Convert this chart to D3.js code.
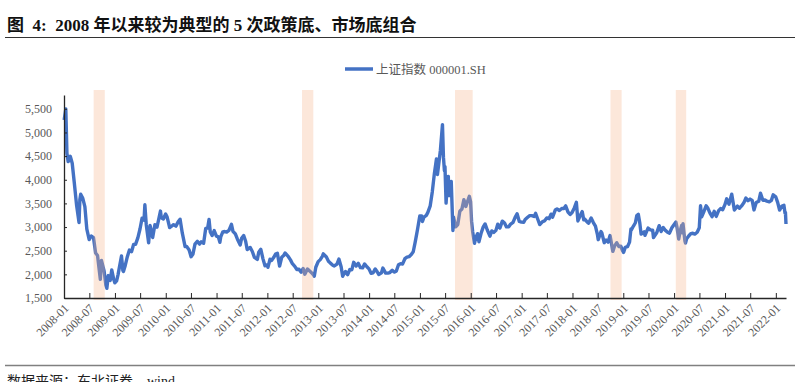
<!DOCTYPE html>
<html>
<head>
<meta charset="utf-8">
<script src="https://cdn.jsdelivr.net/npm/d3@7"></script>
<style>
  body { margin: 0; background: #fff; }
  svg { display: block; }
</style>
</head>
<body>
<svg id="chart" width="800" height="382"></svg>
<script>
// ---- data ----
const dates = [
  "2008-01-02","2008-01-14","2008-01-22","2008-01-31","2008-02-15","2008-02-29","2008-03-14","2008-03-31","2008-04-18","2008-04-24","2008-04-30","2008-05-15","2008-05-30","2008-06-13","2008-06-30","2008-07-15","2008-07-31","2008-08-15","2008-08-29","2008-09-18","2008-09-26","2008-10-15","2008-10-28","2008-11-04","2008-11-14","2008-11-28","2008-12-09","2008-12-23","2008-12-31",
  "2009-01-13","2009-01-23","2009-02-17","2009-02-27","2009-03-03","2009-03-16","2009-03-31","2009-04-15","2009-04-30","2009-05-15","2009-05-29","2009-06-15","2009-06-30","2009-07-15","2009-07-29","2009-08-04","2009-08-14","2009-08-31","2009-09-10","2009-09-29","2009-10-15","2009-10-30","2009-11-24","2009-11-30","2009-12-15","2009-12-31",
  "2010-01-11","2010-01-29","2010-02-12","2010-02-26","2010-03-15","2010-03-31","2010-04-14","2010-04-30","2010-05-20","2010-05-31","2010-06-18","2010-07-02","2010-07-15","2010-07-30","2010-08-16","2010-08-31","2010-09-13","2010-09-30","2010-10-15","2010-10-29","2010-11-08","2010-11-17","2010-11-30","2010-12-15","2010-12-31",
  "2011-01-14","2011-01-25","2011-01-31","2011-02-15","2011-02-28","2011-03-15","2011-03-31","2011-04-18","2011-04-29","2011-05-16","2011-05-31","2011-06-20","2011-06-30","2011-07-15","2011-07-29","2011-08-09","2011-08-31","2011-09-15","2011-09-30","2011-10-21","2011-10-31","2011-11-15","2011-11-30","2011-12-15","2011-12-30",
  "2012-01-05","2012-01-20","2012-01-31","2012-02-15","2012-02-29","2012-03-13","2012-03-29","2012-04-13","2012-04-27","2012-05-07","2012-05-31","2012-06-15","2012-06-29","2012-07-16","2012-07-31","2012-08-15","2012-08-31","2012-09-14","2012-09-26","2012-10-15","2012-10-31","2012-11-15","2012-11-30","2012-12-03","2012-12-14","2012-12-31",
  "2013-01-15","2013-01-31","2013-02-06","2013-02-28","2013-03-15","2013-03-29","2013-04-15","2013-04-26","2013-05-15","2013-05-29","2013-06-14","2013-06-25","2013-06-28","2013-07-15","2013-07-31","2013-08-15","2013-08-30","2013-09-12","2013-09-30","2013-10-15","2013-10-31","2013-11-15","2013-11-29","2013-12-16","2013-12-31",
  "2014-01-15","2014-01-30","2014-02-14","2014-02-28","2014-03-11","2014-03-31","2014-04-10","2014-04-30","2014-05-15","2014-05-30","2014-06-16","2014-06-30","2014-07-15","2014-07-31","2014-08-15","2014-08-29","2014-09-15","2014-09-30","2014-10-15","2014-10-31","2014-11-14","2014-11-28","2014-12-09","2014-12-15","2014-12-31",
  "2015-01-13","2015-01-19","2015-01-30","2015-02-16","2015-02-27","2015-03-16","2015-03-31","2015-04-15","2015-04-30","2015-05-07","2015-05-15","2015-05-28","2015-06-12","2015-06-19","2015-06-26","2015-06-30","2015-07-08","2015-07-17","2015-07-24","2015-07-27","2015-07-31","2015-08-14","2015-08-26","2015-08-31","2015-09-15","2015-09-30","2015-10-15","2015-10-30","2015-11-13","2015-11-27","2015-12-22","2015-12-31",
  "2016-01-07","2016-01-15","2016-01-28","2016-02-05","2016-02-19","2016-02-29","2016-03-15","2016-03-31","2016-04-13","2016-04-29","2016-05-18","2016-05-31","2016-06-15","2016-06-30","2016-07-13","2016-07-29","2016-08-15","2016-08-31","2016-09-14","2016-09-30","2016-10-14","2016-10-31","2016-11-15","2016-11-29","2016-12-15","2016-12-30",
  "2017-01-16","2017-01-26","2017-02-15","2017-02-28","2017-03-15","2017-03-31","2017-04-11","2017-04-28","2017-05-11","2017-05-31","2017-06-15","2017-06-30","2017-07-17","2017-07-31","2017-08-11","2017-08-31","2017-09-12","2017-09-29","2017-10-16","2017-10-31","2017-11-13","2017-11-30","2017-12-15","2017-12-29",
  "2018-01-15","2018-01-29","2018-02-09","2018-02-28","2018-03-12","2018-03-23","2018-03-30","2018-04-16","2018-04-27","2018-05-15","2018-05-31","2018-06-15","2018-06-29","2018-07-05","2018-07-25","2018-07-31","2018-08-17","2018-08-31","2018-09-14","2018-09-28","2018-10-18","2018-10-31","2018-11-15","2018-11-30","2018-12-14","2018-12-28",
  "2019-01-03","2019-01-15","2019-01-31","2019-02-15","2019-02-25","2019-02-28","2019-03-15","2019-03-29","2019-04-08","2019-04-19","2019-04-30","2019-05-09","2019-05-31","2019-06-06","2019-06-28","2019-07-15","2019-07-31","2019-08-06","2019-08-30","2019-09-16","2019-09-30","2019-10-15","2019-10-31","2019-11-15","2019-11-29","2019-12-16","2019-12-31",
  "2020-01-14","2020-01-23","2020-02-03","2020-02-14","2020-02-24","2020-02-28","2020-03-05","2020-03-19","2020-03-23","2020-03-31","2020-04-15","2020-04-30","2020-05-15","2020-05-29","2020-06-15","2020-06-30","2020-07-09","2020-07-17","2020-07-31","2020-08-18","2020-08-31","2020-09-15","2020-09-30","2020-10-15","2020-10-30","2020-11-16","2020-11-30","2020-12-15","2020-12-31",
  "2021-01-13","2021-01-29","2021-02-18","2021-03-09","2021-03-31","2021-04-15","2021-04-30","2021-05-17","2021-05-31","2021-06-15","2021-06-30","2021-07-15","2021-07-28","2021-08-13","2021-08-31","2021-09-13","2021-09-30","2021-10-15","2021-10-29","2021-11-15","2021-11-30","2021-12-13","2021-12-31",
  "2022-01-14","2022-01-28","2022-02-15","2022-02-28","2022-03-08","2022-03-11","2022-03-15"
];

const closes = [
  5265,5497,4559,4383,4497,4348,3962,3473,3094,3584,3693,3606,3433,2957,2736,2811,2775,2450,2397,1895,2293,2074,1771,1706,1974,1871,2093,1897,1821,
  1863,1990,2389,2082,2060,2189,2373,2513,2477,2632,2633,2776,2959,3189,3147,3471,3046,2667,3034,2779,3050,2996,3338,3195,3170,3277,
  3212,2989,3018,3051,3019,3110,3166,2871,2588,2592,2514,2373,2424,2638,2700,2639,2688,2656,2971,2979,3159,2894,2820,2925,2808,
  2791,2677,2791,2899,2905,2896,2928,3057,2911,2854,2743,2621,2762,2820,2701,2526,2568,2484,2359,2317,2468,2530,2333,2181,2199,
  2149,2319,2293,2355,2428,2445,2174,2359,2397,2452,2373,2306,2225,2170,2103,2110,2047,2123,2004,2114,2069,2030,1980,1959,2150,2269,
  2311,2385,2434,2366,2278,2237,2194,2177,2217,2324,2162,1959,1979,2059,1994,2101,2098,2255,2175,2233,2141,2136,2220,2160,2116,
  2023,2033,2115,2056,1997,2033,2134,2026,2025,2039,2087,2048,2066,2202,2226,2217,2331,2364,2374,2420,2478,2683,2856,2953,3235,
  3235,3116,3210,3247,3310,3449,3748,4135,4442,4112,4308,4620,5166,4478,4192,4277,3507,3957,4070,3725,3664,3965,2927,3206,3005,3053,3338,3383,3580,3436,3651,3539,
  3125,2901,2656,2763,2860,2688,2864,3004,3066,2938,2807,2917,2887,2930,3060,2979,3125,3085,3003,3005,3064,3100,3206,3282,3118,3104,
  3103,3159,3212,3242,3241,3223,3289,3155,3052,3117,3132,3192,3176,3273,3209,3361,3384,3349,3391,3393,3448,3317,3266,3307,
  3410,3524,3129,3259,3326,3153,3169,3110,3082,3193,3095,3021,2847,2733,2904,2876,2669,2725,2682,2821,2486,2603,2668,2588,2594,2494,
  2464,2570,2585,2682,2961,2941,3022,3091,3245,3271,3078,2850,2899,2827,2979,2942,2933,2778,2886,3030,2905,2991,2929,2891,2872,2984,3050,
  3106,2977,2746,2917,3031,2880,3071,2702,2660,2750,2811,2860,2868,2852,2890,2985,3450,3214,3310,3451,3396,3295,3218,3332,3225,3346,3392,3367,3473,
  3598,3483,3696,3360,3442,3398,3447,3517,3615,3556,3591,3564,3362,3517,3544,3715,3568,3572,3547,3533,3564,3681,3640,
  3521,3361,3446,3462,3293,3310,3064
];

const tickLabels = [
  "2008-01","2008-07","2009-01","2009-07","2010-01","2010-07","2011-01","2011-07",
  "2012-01","2012-07","2013-01","2013-07","2014-01","2014-07","2015-01","2015-07",
  "2016-01","2016-07","2017-01","2017-07","2018-01","2018-07","2019-01","2019-07",
  "2020-01","2020-07","2021-01","2021-07","2022-01"
];
const yTicks = [1500, 2000, 2500, 3000, 3500, 4000, 4500, 5000, 5500];

// policy bottom / market bottom windows (shaded)
const bottomStarts = ["2008-08-01", "2012-09-06", "2015-09-10", "2018-10-01", "2020-01-13"];
const bottomEnds   = ["2008-10-20", "2012-11-26", "2016-01-15", "2018-12-20", "2020-03-28"];

const seriesName = "上证指数 000001.SH";
const title = "图  4:  2008 年以来较为典型的 5 次政策底、市场底组合";
const source = "数据来源：东北证券，wind";

if (dates.length !== closes.length) console.error("length mismatch", dates.length, closes.length);

// ---- setup ----
const parse = d3.timeParse("%Y-%m-%d");
const parseMonth = d3.timeParse("%Y-%m");
const points = dates.map((d, i) => ({ date: parse(d), value: closes[i] }));

const serif = "'Liberation Serif', 'Times New Roman', 'Noto Sans CJK SC', serif";
const grey = "#595959";

const svg = d3.select("#chart");

const x = d3.scaleTime()
  .domain([parse("2008-01-01"), parse("2022-03-15")])
  .range([64, 786]);

const y = d3.scaleLinear()
  .domain([1500, 5792])
  .range([298, 95]);

// title + rule under it
svg.append("text")
  .attr("x", 7).attr("y", 31)
  .attr("font-family", serif)
  .attr("font-size", 17).attr("font-weight", "bold")
  .attr("fill", "#111")
  .style("white-space", "pre")
  .text(title);

svg.append("line")
  .attr("x1", 5).attr("x2", 795).attr("y1", 37.5).attr("y2", 37.5)
  .attr("stroke", "#333").attr("stroke-width", 1.2);

// legend
svg.append("line")
  .attr("x1", 345).attr("x2", 373).attr("y1", 69).attr("y2", 69)
  .attr("stroke", "#4472C4").attr("stroke-width", 3.5);

svg.append("text")
  .attr("x", 376).attr("y", 73.5)
  .attr("font-family", serif).attr("font-size", 12.5)
  .attr("fill", grey)
  .text(seriesName);

// the index line
const line = d3.line()
  .x(d => x(d.date))
  .y(d => y(d.value));

svg.append("path")
  .datum(points)
  .attr("fill", "none")
  .attr("stroke", "#4472C4")
  .attr("stroke-width", 3.4)
  .attr("stroke-linejoin", "round")
  .attr("d", line);

// shaded windows, drawn over the line like the original
svg.selectAll("rect.bottom")
  .data(bottomStarts.map((s, i) => ({ start: parse(s), end: parse(bottomEnds[i]) })))
  .enter()
  .append("rect")
  .attr("class", "bottom")
  .attr("x", d => x(d.start))
  .attr("width", d => x(d.end) - x(d.start))
  .attr("y", y.range()[1] - 5)
  .attr("height", y.range()[0] - y.range()[1] + 7)
  .attr("fill", "#F4B183")
  .attr("fill-opacity", 0.3);

// y axis
const yAxis = svg.append("g")
  .attr("transform", `translate(${x.range()[0]},0)`)
  .call(d3.axisLeft(y)
    .tickValues(yTicks)
    .tickFormat(d3.format(","))
    .tickSize(-3)
    .tickSizeOuter(0)
    .tickPadding(12));

yAxis.select(".domain").attr("stroke", "#262626").attr("stroke-width", 1.3);
yAxis.selectAll(".tick line").attr("stroke", "#262626");
yAxis.selectAll(".tick text")
  .attr("font-family", serif).attr("font-size", 12).attr("fill", grey);

// x axis
const xAxis = svg.append("g")
  .attr("transform", `translate(0,${y.range()[0]})`)
  .call(d3.axisBottom(x)
    .tickValues(tickLabels.map(parseMonth))
    .tickSize(-5)
    .tickSizeOuter(0)
    .tickFormat(d3.timeFormat("%Y-%m")));

xAxis.select(".domain").attr("stroke", "#262626").attr("stroke-width", 1.3);
xAxis.selectAll(".tick line").attr("stroke", "#262626");
xAxis.selectAll(".tick text")
  .attr("font-family", serif).attr("font-size", 12).attr("fill", grey)
  .attr("text-anchor", "end")
  .attr("y", 0).attr("dy", "0.35em")
  .attr("transform", "translate(2,8) rotate(-45)");

// source footer
svg.append("line")
  .attr("x1", 5).attr("x2", 795).attr("y1", 365.5).attr("y2", 365.5)
  .attr("stroke", "#808080").attr("stroke-width", 1.5);

svg.append("text")
  .attr("x", 7).attr("y", 386)
  .attr("font-family", serif).attr("font-size", 14)
  .attr("fill", "#222")
  .text(source);
</script>
</body>
</html>
